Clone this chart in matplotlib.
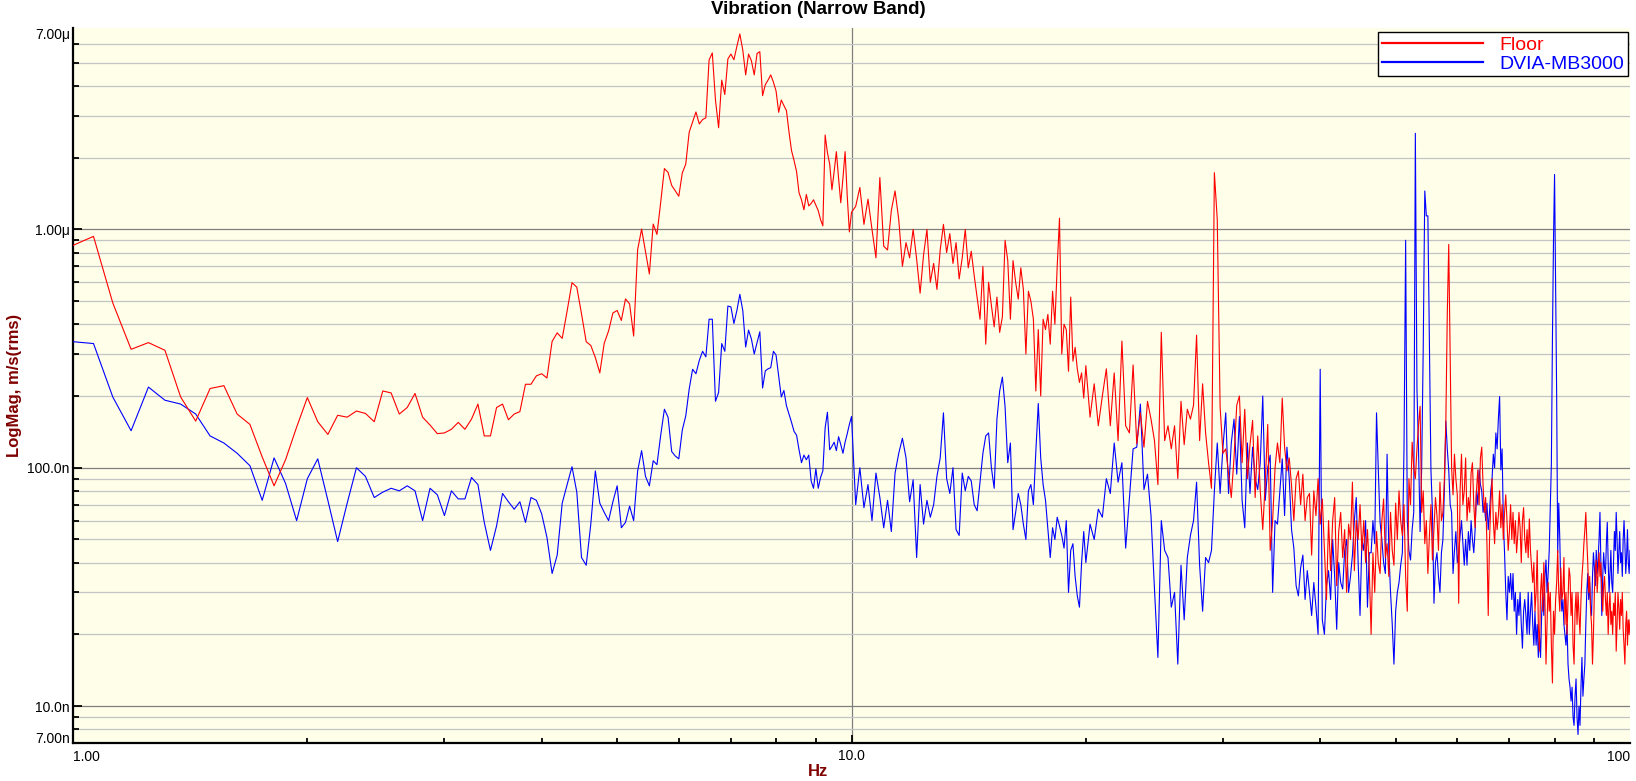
import numpy as np
import matplotlib
matplotlib.use("Agg")
import matplotlib.pyplot as plt
from matplotlib.ticker import FixedLocator, FixedFormatter, NullFormatter
from matplotlib.lines import Line2D

plt.rcParams['font.family'] = ['Liberation Sans', 'DejaVu Sans']

# ---------------- data (values in nm/s rms) ----------------
# 1 .. 10 Hz, FFT bins every 1/16 Hz
hz_lo = 1.0 + np.arange(145) / 16.0
floor_lo = [
    857, 935, 491, 314, 335, 311, 198, 157, 215, 221, 168, 152, 111, 84, 108, 148,
    197, 156, 138, 166, 163, 173, 169, 156, 210, 206, 168, 179, 205, 163, 151, 139,
    140, 145, 155, 145, 160, 185, 136, 136, 179, 185, 159, 168, 172, 224, 224, 243,
    248, 238, 339, 368, 349, 455, 598, 572, 442, 338, 326, 290, 250, 333, 375, 446,
    457, 415, 511, 487, 357, 822, 1003, 808, 650, 1053, 953, 1300, 1800, 1735, 1530, 1451,
    1378, 1725, 1880, 2560, 2820, 3110, 2770, 2890, 2940, 5140, 5500, 3490, 2670, 4230, 3680, 5190,
    5440, 5150, 5870, 6610, 5660, 4450, 5440, 5100, 4450, 5470, 5570, 3640, 4050, 4230, 4450, 4150,
    3810, 3100, 3490, 3310, 3150, 2560, 2140, 1945, 1750, 1426, 1331, 1209, 1402, 1255, 1285, 1331,
    1265, 1200, 1100, 1035, 2490, 2100, 1880, 1466, 1750, 2120, 1640, 1294, 1640, 2120, 1378, 976,
    1180]
dvia_lo = [
    338, 332, 198, 143, 218, 192, 185, 168, 136, 127, 115, 102, 73, 110, 86, 60,
    90, 109, 73, 49, 71, 100, 92, 75, 79, 82, 80, 84, 80, 60, 82, 77,
    63, 80, 74, 74, 91, 85, 59, 45, 57, 78, 72, 67, 72, 59, 75, 73,
    64, 51, 36, 43, 71, 85, 101, 79, 42, 39, 58, 97, 71, 65, 60, 72,
    84, 56, 59, 69, 60, 97, 118, 92, 84, 107, 103, 137, 176, 163, 117, 112,
    109, 144, 165, 214, 259, 248, 282, 308, 292, 420, 420, 190, 207, 332, 308, 477,
    473, 403, 457, 534, 457, 321, 378, 347, 300, 335, 372, 216, 255, 260, 263, 308,
    297, 242, 198, 211, 182, 168, 155, 142, 137, 119, 105, 113, 108, 113, 88, 82,
    99, 82, 91, 97, 147, 171, 119, 123, 128, 118, 135, 125, 115, 128, 139, 152,
    164]

# 10.125 .. 19.875 Hz every 1/8 Hz
hz_mid = np.arange(10.125, 19.9, 0.125)
floor_mid = [
    1250, 1500, 1050, 1340, 1000, 760, 1650,
    850, 820, 1200, 1450, 1100, 700, 880, 760,
    1000, 750, 540, 780, 1000, 600, 720, 560,
    820, 1050, 800, 960, 720, 880, 620, 760,
    1000, 690, 810, 640, 520, 420, 700, 330,
    600, 480, 390, 520, 370, 430, 900, 740,
    420, 740, 600, 510, 690, 560, 300, 550,
    500, 420, 210, 380, 200, 420, 380, 440,
    330, 550, 400, 700, 1115, 300, 400, 380,
    254, 520, 280, 320, 260, 228, 250, 196]
dvia_mid = [
    70, 100, 68, 85, 60, 95, 75,
    56, 73, 54, 95, 115, 133, 110, 72,
    89, 42, 85, 58, 73, 62, 70, 92,
    110, 170, 90, 78, 100, 55, 52, 95,
    80, 92, 88, 70, 66, 87, 115, 136,
    140, 100, 82, 160, 210, 240, 180, 105,
    127, 55, 65, 78, 70, 58, 50, 80,
    85, 70, 117, 186, 110, 85, 73, 55,
    42, 56, 50, 62, 57, 52, 46, 60,
    30, 45, 48, 35, 29, 26, 40, 54]

# 20 .. 100 Hz every 1/4 Hz
hz_hi = np.arange(20.0, 100.01, 0.25)
floor_hi = [
    268, 163, 225, 150,  200, 260, 150, 250,  130, 340, 150, 140,  270, 126, 170, 122,
    190, 160, 130, 85,   370, 130, 150, 120,  150, 90, 190, 125,   176, 160, 183, 360,
    130, 225, 140, 105,  82, 1730, 1100, 180, 115, 120, 95, 75,    110, 183, 200, 105,
    176, 90, 125, 158,   75, 136, 80, 55,     87, 152, 45, 60,     100, 127, 105, 196,
    122, 97, 110, 84,    60, 90, 97, 70,      94, 60, 75, 78,      43, 80, 63, 90,
    58, 74, 45, 28,      60, 37, 60, 75,      32, 54, 65, 42,      55, 30, 58, 50,
    87, 37, 60, 50,      70, 45, 60, 40,      55, 37, 20, 44,      30, 54, 40, 36,
    60, 74, 42, 48,      35, 65, 45, 39,      71, 50, 80, 60,      52, 70, 35, 25,
    90, 70, 128, 100,    90, 120, 151, 181,   65, 80, 48, 60,      36, 52, 70, 41,
    55, 75, 63, 45,      87, 60, 65, 90,      154, 440, 865, 300,  100, 77, 114, 90,
    77, 27, 80, 114,     70, 80, 110, 60,     75, 65, 95, 105,     70, 56, 80, 98,
    70, 110, 122, 85,    65, 75, 48, 24,      50, 70, 90, 60,      48, 65, 55, 63,
    80, 56, 70, 50,      65, 77, 60, 45,      54, 70, 50, 65,      48, 60, 44, 52,
    65, 56, 40, 60,      68, 50, 44, 55,      42, 61, 45, 38,      33, 40, 25, 30,
    45, 22, 17, 30,      36, 25, 40, 28,      15, 22, 33, 25,      30, 18, 12.5, 25,
    20, 28, 33, 45,      30, 25, 38, 28,      30, 42, 22, 30,      20, 28, 38, 35,
    24, 30, 18, 15,      25, 30, 22, 30,      24, 20, 28, 35,      40, 48, 55, 65,
    50, 40, 30, 35,      25, 22, 15, 20,      30, 38, 41, 30,      36, 44, 35, 40,
    30, 25, 32, 35,      28, 24, 30, 20,      26, 30, 22, 25,      20, 27, 24, 30,
    17, 22, 30, 26,      21, 28, 24, 30,      21, 18, 15, 22,      25, 18, 23, 20,
    23]
dvia_hi = [
    40, 58, 50, 67,      62, 90, 78, 127,     87, 105, 46, 75,     120, 122, 185, 81,
    94, 63, 31, 16,      60, 45, 42, 26,      30, 15, 39, 23,      42, 52, 60, 87,
    39, 25, 42, 40,      45, 80, 127, 78,     122, 170, 78, 127,   160, 94, 164, 73,
    56, 127, 78, 122,    90, 81, 105, 200,    73, 100, 113, 30,    60, 58, 80, 109,
    63, 122, 90, 55,     46, 32, 29, 38,      43, 28, 37, 30,      24, 33, 26, 20,
    259, 23, 20, 32,     37, 28, 50, 35,      21, 40, 33, 31,      45, 50, 30, 35,
    43, 60, 75, 40,      24, 50, 45, 60,      26, 44, 44, 60,      48, 170, 98, 59,
    50, 40, 36, 114,     45, 30, 22, 15,      25, 30, 33, 39,      44, 120, 900, 60,
    45, 41, 55, 65,      2530, 216, 119, 54,  100, 320, 1450, 1140, 1140, 320, 98, 65,
    27, 40, 44, 35,      30, 44, 50, 80,      157, 120, 98, 70,    65, 36, 45, 54,
    40, 44, 52, 60,      48, 39, 50, 39,      54, 45, 60, 50,      44, 55, 80, 70,
    98, 85, 80, 65,      71, 60, 71, 55,      65, 80, 90, 114,     100, 140, 120, 160,
    199, 98, 120, 60,    44, 30, 23, 35,      30, 36, 28, 36,      25, 30, 20, 28,
    24, 30, 22, 17.5,    25, 28, 24, 20,      30, 20, 25, 30,      22, 18, 25, 18,
    22, 16, 20, 16,      24, 30, 24, 35,      41, 30, 36, 45,      70, 104, 347, 900,
    1700, 600, 200, 44,  71, 50, 30, 25,      28, 22, 20, 18,      22, 15, 13, 12,
    10.5, 12, 9, 8.3,    11, 13, 9, 7.6,      10, 8.3, 12, 16,     11, 13, 15, 22,
    30, 36, 28, 33,      26, 24, 35, 44,      38, 32, 45, 36,      41, 50, 65, 40,
    24, 35, 44, 38,      36, 48, 59, 40,      30, 36, 45, 33,      30, 40, 54, 45,
    65, 50, 36, 44,      54, 40, 44, 35,      50, 60, 48, 36,      42, 55, 40, 36,
    45]

series_names = ['Floor', 'DVIA-MB3000']
series_colors = ['#ff0000', '#0000ff']
y_tick_vals = [1e-8, 1e-7, 1e-6]
y_tick_labels = ['10.0n', '100.0n', '1.00\u03bc']


def seg(hz, vals):
    n = min(len(hz), len(vals))
    return hz[:n], np.asarray(vals[:n], dtype=float)


def join(parts):
    hz = np.concatenate([p[0] for p in parts])
    v = np.concatenate([p[1] for p in parts])
    return hz, v * 1e-9


floor_hz, floor_v = join([seg(hz_lo, floor_lo), seg(hz_mid, floor_mid), seg(hz_hi, floor_hi)])
dvia_hz, dvia_v = join([seg(hz_lo, dvia_lo), seg(hz_mid, dvia_mid), seg(hz_hi, dvia_hi)])

# ---------------- figure ----------------
W, H = 1636, 781
fig = plt.figure(figsize=(W / 100, H / 100), dpi=100)
fig.patch.set_facecolor('white')
L, R, T, B = 73, 1630, 28, 743
ax = fig.add_axes([L / W, (H - B) / H, (R - L) / W, (B - T) / H])
ax.set_facecolor('#fefee9')
ax.set_xscale('log')
ax.set_yscale('log')

ax.plot(dvia_hz, dvia_v, color=series_colors[1], lw=0.8, zorder=3)
ax.plot(floor_hz, floor_v, color=series_colors[0], lw=0.8, zorder=4)

ax.set_xlim(1, 100)
ax.set_ylim(7e-9, 7e-6)

# ticks
ax.xaxis.set_major_locator(FixedLocator([10]))
ax.xaxis.set_major_formatter(FixedFormatter(['10.0']))
ax.xaxis.set_minor_locator(FixedLocator([m * d for d in (1, 10) for m in range(2, 10)]))
ax.xaxis.set_minor_formatter(NullFormatter())
ax.yaxis.set_major_locator(FixedLocator(y_tick_vals))
ax.yaxis.set_major_formatter(FixedFormatter(y_tick_labels))
yminor = [m * 10.0 ** e for e in (-9, -8, -7, -6) for m in range(2, 10)]
yminor = [v for v in yminor if 7.5e-9 <= v <= 6.5e-6]
ax.yaxis.set_minor_locator(FixedLocator(yminor))
ax.yaxis.set_minor_formatter(NullFormatter())

ax.tick_params(axis='both', which='both', direction='in', colors='black', labelsize=10)
ax.tick_params(axis='y', which='major', length=6.5, width=1.3, pad=2.5)
ax.tick_params(axis='y', which='minor', length=4.3, width=1.3)
ax.tick_params(axis='x', which='major', length=6, width=1.3, pad=4)
ax.tick_params(axis='x', which='minor', length=3.6, width=1.3)

ax.set_axisbelow(True)
ax.yaxis.grid(True, which='major', color='#7f7f7f', lw=0.9)
ax.yaxis.grid(True, which='minor', color='#c4c4c4', lw=0.9)
ax.xaxis.grid(True, which='major', color='#7f7f7f', lw=0.9)
ax.xaxis.grid(False, which='minor')

for s in ('top', 'right'):
    ax.spines[s].set_visible(False)
for s in ('left', 'bottom'):
    ax.spines[s].set_linewidth(1.6)
    ax.spines[s].set_color('black')

# end labels of the axes
ytr = ax.get_yaxis_transform()
ax.text(-3 / (R - L), 7e-6, '7.00\u03bc', transform=ytr, ha='right', va='top', fontsize=10)
ax.text(-3 / (R - L), 7e-9, '7.00n', transform=ytr, ha='right', va='baseline', fontsize=10)
xtr = ax.get_xaxis_transform()
ax.text(1.0, -7 / (B - T), '1.00', transform=xtr, ha='left', va='top', fontsize=10)
ax.text(100.0, -7 / (B - T), '100', transform=xtr, ha='right', va='top', fontsize=10)

# legend
handles = [Line2D([], [], color=c, lw=1.6) for c in series_colors]
leg = ax.legend(handles, series_names, loc='upper right', bbox_to_anchor=(1.0, 1 - 2.5 / (B - T)),
                borderaxespad=0.1, fontsize=14, frameon=True, fancybox=False, framealpha=1,
                edgecolor='black', facecolor='white', handlelength=5.2, handletextpad=0.85,
                labelspacing=0.05, borderpad=0.2)
leg.get_frame().set_linewidth(1.0)
leg.set_zorder(10)
for t, c in zip(leg.get_texts(), series_colors):
    t.set_color(c)

# titles
fig.text(0.5, 1 - 10 / H, 'Vibration (Narrow Band)', ha='center', va='center',
         fontsize=13.5, fontweight='bold', color='black')
fig.text(0.5, 1 - 771 / H, 'Hz', ha='center', va='center', fontsize=12,
         fontweight='bold', color='#800000')
fig.text(14.5 / W, 1 - ((T + B) / 2) / H, 'LogMag, m/s(rms)', ha='center', va='center',
         rotation=90, fontsize=12, fontweight='bold', color='#800000')

fig.savefig('out.png', dpi=100, facecolor='white')
